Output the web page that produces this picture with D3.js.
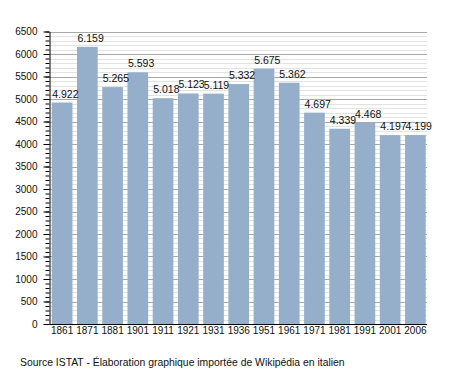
<!DOCTYPE html>
<html>
<head>
<meta charset="utf-8">
<script src="https://cdn.jsdelivr.net/npm/d3@7"></script>
<style>
  body { margin: 0; background: #fff; }
  svg { display: block; font-family: "Liberation Sans", Arial, sans-serif; }
</style>
</head>
<body>
<svg id="chart" width="455" height="373"></svg>
<script>
const years = ['1861', '1871', '1881', '1901', '1911', '1921', '1931', '1936',
  '1951', '1961', '1971', '1981', '1991', '2001', '2006'];
const population = [4922, 6159, 5265, 5593, 5018, 5123, 5119, 5332,
  5675, 5362, 4697, 4339, 4468, 4197, 4199];
const valueLabels = ['4.922', '6.159', '5.265', '5.593', '5.018', '5.123', '5.119', '5.332',
  '5.675', '5.362', '4.697', '4.339', '4.468', '4.197', '4.199'];
const yTicks = d3.range(0, 6501, 500);
const sourceText = 'Source ISTAT - Élaboration graphique importée de Wikipédia en italien';

const svg = d3.select('#chart');
const plotLeft = 49.5, plotRight = 427, plotTop = 31.5, plotBottom = 324;

const x = d3.scaleBand()
  .domain(years)
  .range([plotLeft, 428])
  .paddingInner(0.18)
  .paddingOuter(0.09);

const y = d3.scaleLinear()
  .domain([0, 6500])
  .range([plotBottom, plotTop]);

// minor grid every 100
svg.append('g')
  .selectAll('line')
  .data(d3.range(0, 6501, 100).filter(v => v % 500 !== 0))
  .join('line')
  .attr('x1', plotLeft).attr('x2', plotRight)
  .attr('y1', d => Math.round(y(d)) + 0.5)
  .attr('y2', d => Math.round(y(d)) + 0.5)
  .attr('stroke', '#e2e2e2')
  .attr('stroke-width', 1);

// major grid every 500
svg.append('g')
  .selectAll('line')
  .data(yTicks.filter(v => v > 0))
  .join('line')
  .attr('x1', plotLeft).attr('x2', plotRight)
  .attr('y1', d => Math.round(y(d)) + 0.5)
  .attr('y2', d => Math.round(y(d)) + 0.5)
  .attr('stroke', '#a8a8a8')
  .attr('stroke-width', 1);

// bars
svg.append('g')
  .selectAll('rect')
  .data(population)
  .join('rect')
  .attr('x', (d, i) => x(years[i]))
  .attr('y', d => y(d))
  .attr('width', x.bandwidth())
  .attr('height', d => plotBottom - y(d))
  .attr('fill', '#95afcb');

// value labels
svg.append('g')
  .selectAll('text')
  .data(population)
  .join('text')
  .attr('x', (d, i) => x(years[i]) + 0.5)
  .attr('y', d => y(d) - 5)
  .attr('font-size', 10.5)
  .attr('fill', '#111')
  .text((d, i) => valueLabels[i]);

// y axis: minor ticks
svg.append('g')
  .attr('transform', `translate(${plotLeft},0)`)
  .call(d3.axisLeft(y).tickValues(d3.range(0, 6501, 100)).tickSize(4).tickFormat(''))
  .call(g => g.select('.domain').remove())
  .call(g => g.selectAll('line').attr('stroke', '#000'));

// y axis: major ticks + labels
svg.append('g')
  .attr('transform', `translate(${plotLeft},0)`)
  .call(d3.axisLeft(y).tickValues(yTicks).tickFormat(d3.format('d'))
    .tickSize(6).tickPadding(6).tickSizeOuter(0))
  .call(g => g.select('.domain').attr('stroke', '#000'))
  .call(g => g.selectAll('line').attr('stroke', '#000'))
  .call(g => g.selectAll('text')
    .attr('font-size', 10)
    .attr('font-family', '"Liberation Sans", Arial, sans-serif')
    .attr('fill', '#111'));

// x axis
svg.append('g')
  .attr('transform', `translate(0,${plotBottom})`)
  .call(d3.axisBottom(x).tickSize(0).tickPadding(3))
  .call(g => g.select('.domain').attr('d', `M${plotLeft},0.5H${plotRight}`).attr('stroke', '#000'))
  .call(g => g.selectAll('text')
    .attr('font-size', 10)
    .attr('font-family', '"Liberation Sans", Arial, sans-serif')
    .attr('fill', '#111'));

// source note
svg.append('text')
  .attr('x', 20)
  .attr('y', 366)
  .attr('font-size', 10.4)
  .attr('fill', '#111')
  .text(sourceText);
</script>
</body>
</html>
